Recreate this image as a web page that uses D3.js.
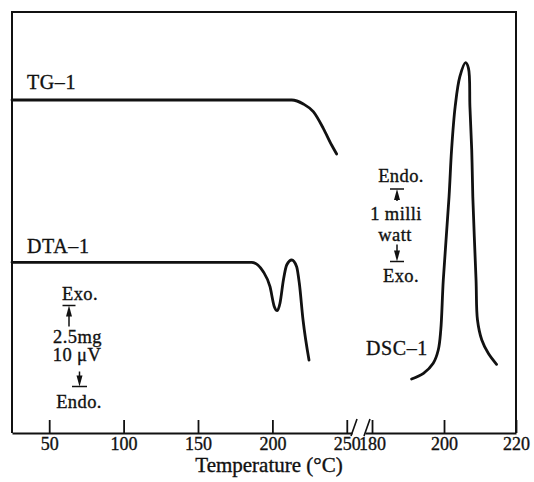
<!DOCTYPE html>
<meta charset="utf-8">
<style>
body { margin: 0; background: #fff; }
svg text { font-family: "Liberation Serif", "Times New Roman", serif; fill: #111; stroke: #111; stroke-width: 0.35px; }
.frame, .domain { stroke: #111; stroke-width: 2; fill: none; }
.tick line { stroke: #111; stroke-width: 1.8; }
.curve { fill: none; stroke: #111; stroke-width: 2.8; stroke-linecap: round; }
.label { font-size: 20px; letter-spacing: 0.6px; }
.small { font-size: 18.5px; letter-spacing: 0.4px; }
.tick text { font-size: 18px; }
</style>
<svg width="534" height="482"></svg>
<script src="https://d3js.org/d3.v7.min.js"></script>
<script>
// temperature (°C), signal (arbitrary units)
var tgTemp   = [25, 150, 213.0, 220.8, 227.5, 234.2, 239.8, 243.2];
var tgSig    = [333, 333, 333, 329, 321.3, 304.7, 288, 279];

var dtaTemp  = [25, 150, 186.1, 193.9, 198.4, 201.3, 203.3, 205.1, 207.4, 209.6, 213.0, 216.3, 218.1, 220.6, 224.6];
var dtaSig   = [170.7, 170.7, 170.7, 161.3, 146.3, 126.3, 122.3, 129.7, 153, 168, 173, 166.3, 149.7, 113, 73];

var dscTemp  = [191.0, 194.3, 197.0, 198.4, 199.1, 199.8, 201.4, 202.1, 203.1, 204.4, 206.0, 206.8, 207.2, 207.7, 208.0, 208.9, 209.3, 210.5, 212.3, 214.6];
var dscSig   = [54, 59.7, 69.7, 83, 103, 153, 236.3, 283, 326.3, 356.3, 370.3, 364.7, 326.3, 283, 236.3, 153, 113, 93, 79.7, 68.7];

var leftTicks  = [50, 100, 150, 200, 250];
var rightTicks = [180, 200, 220];

var svg = d3.select("svg");

var xLeft  = d3.scaleLinear().domain([25, 253.5]).range([12, 352]);
var xRight = d3.scaleLinear().domain([178.05, 220]).range([365, 516]);
var y      = d3.scaleLinear().domain([0, 421]).range([433, 12]);

// frame: left, top, right
svg.append("path").attr("class", "frame")
  .attr("d", "M" + xLeft(25) + "," + y(0) + "V" + y(421) + "H" + xRight(220) + "V" + y(0));

svg.append("g").attr("transform", "translate(0," + y(0) + ")")
  .call(d3.axisBottom(xLeft).tickValues(leftTicks).tickSize(-13).tickSizeOuter(0).tickPadding(4));
svg.append("g").attr("transform", "translate(0," + y(0) + ")")
  .call(d3.axisBottom(xRight).tickValues(rightTicks).tickSize(-13).tickSizeOuter(0).tickPadding(4));

// break marks
[354, 367].forEach(function(bx) {
  svg.append("line").attr("x1", bx - 3).attr("y1", y(0) + 3).attr("x2", bx + 3).attr("y2", y(0) - 14)
    .attr("stroke", "#111").attr("stroke-width", 1.6);
});

svg.append("text").attr("x", 269).attr("y", 472).attr("text-anchor", "middle")
  .style("font-size", "21px").text("Temperature (°C)");

function curve(xs, temps, sigs, c) {
  var pts = temps.map(function(t, i) { return [xs(t), y(sigs[i])]; });
  svg.append("path").attr("class", "curve")
    .attr("d", d3.line().curve(c)(pts));
}
curve(xLeft, tgTemp, tgSig, d3.curveMonotoneX);
curve(xLeft, dtaTemp, dtaSig, d3.curveMonotoneX);
curve(xRight, dscTemp, dscSig, d3.curveCatmullRom.alpha(0.5));

function label(x, yy, txt, anchor, cls) {
  svg.append("text").attr("class", cls || "label").attr("x", x).attr("y", yy)
    .attr("text-anchor", anchor || "start").text(txt);
}
label(27, 89, "TG\u20131");
label(27, 253, "DTA\u20131");
label(366, 355, "DSC\u20131");

// scale markers
label(80, 300, "Exo.", "middle", "small");
label(77.5, 342.5, "2.5mg", "middle", "small");
label(77, 361, "10 \u03bcV", "middle", "small");
label(79, 407.5, "Endo.", "middle", "small");

label(401, 181.5, "Endo.", "middle", "small");
label(396, 220, "1 milli", "middle", "small");
label(395, 240.5, "watt", "middle", "small");
label(401, 281.5, "Exo.", "middle", "small");

function marker(x, barY, dir, len, barW) {
  // dir -1: arrow points up to bar, 1: points down to bar
  var g = svg.append("g").attr("stroke", "#111").attr("fill", "#111");
  g.append("line").attr("x1", x - barW / 2).attr("x2", x + barW / 2).attr("y1", barY).attr("y2", barY)
    .attr("stroke-width", 1.5);
  var tail = barY - dir * len;
  g.append("line").attr("x1", x).attr("x2", x).attr("y1", tail).attr("y2", barY - dir * 8)
    .attr("stroke-width", 1.5);
  g.append("path").attr("stroke", "none")
    .attr("d", "M" + x + "," + barY + "L" + (x - 3) + "," + (barY - dir * 11) +
      "L" + (x + 3) + "," + (barY - dir * 11) + "Z");
}
marker(69, 305.5, -1, 21, 13);
marker(79.5, 386.5, 1, 15, 15);
marker(397, 189, -1, 12, 14);
marker(397, 261.5, 1, 17, 14);
</script>
